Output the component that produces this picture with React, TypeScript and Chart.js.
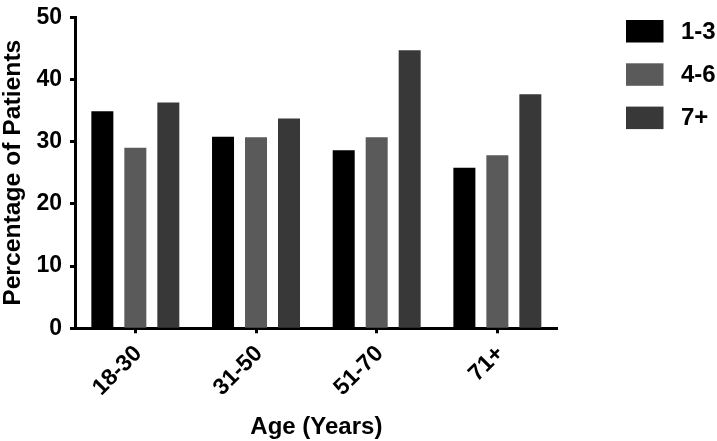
import React, { useEffect, useRef } from "react";
import { Chart, registerables } from "chart.js";

Chart.register(...registerables);

const categories = ["18-30", "31-50", "51-70", "71+"];
const seriesNames = ["1-3", "4-6", "7+"];
const series13 = [34.9, 30.8, 28.6, 25.8];
const series46 = [29.0, 30.7, 30.7, 27.8];
const series7p = [36.3, 33.7, 44.7, 37.6];
const colors = ["#000000", "#5a5a5a", "#383838"];
const yTicks = [0, 10, 20, 30, 40, 50];

const FONT = "'Liberation Sans', Arial, Helvetica, sans-serif";

const legendPlugin = {
  id: "customLegend",
  afterDraw(chart: any) {
    const ctx = chart.ctx;
    ctx.save();
    const ds = chart.data.datasets;
    ds.forEach((d: any, i: number) => {
      const y = 20 + i * 43.3;
      ctx.fillStyle = d.backgroundColor;
      ctx.fillRect(626, y, 37.5, 22.5);
      ctx.fillStyle = "#000";
      ctx.font = `bold 24px ${FONT}`;
      ctx.textAlign = "left";
      ctx.textBaseline = "middle";
      ctx.fillText(d.label, 681, y + 12);
    });
    ctx.restore();
  },
};

export default function App() {
  const ref = useRef<HTMLCanvasElement | null>(null);
  useEffect(() => {
    if (!ref.current) return;
    const data = [series13, series46, series7p];
    const chart = new Chart(ref.current, {
      type: "bar",
      data: {
        labels: categories,
        datasets: seriesNames.map((n, i) => ({
          label: n,
          data: data[i],
          backgroundColor: colors[i],
          borderWidth: 0,
          categoryPercentage: 0.82,
          barPercentage: 0.667,
        })),
      },
      options: {
        animation: false,
        responsive: false,
        maintainAspectRatio: false,
        layout: { padding: { top: 10.5, right: 159.3, left: 0, bottom: 0 } },
        plugins: { legend: { display: false }, tooltip: { enabled: false } },
        scales: {
          x: {
            grid: {
              offset: false,
              drawOnChartArea: false,
              color: "#000",
              tickWidth: 3,
              tickLength: 5,
            },
            border: { display: true, color: "#000", width: 3 },
            ticks: {
              color: "#000",
              font: { family: FONT, size: 23, weight: "bold" },
              minRotation: 45,
              maxRotation: 45,
              padding: 7,
              labelOffset: 3,
            },
            title: {
              display: true,
              text: "Age (Years)",
              color: "#000",
              font: { family: FONT, size: 24, weight: "bold", lineHeight: 1.1 },
              padding: 0,
            },
            afterFit: (s: any) => {
              s.height = 112.7;
            },
          },
          y: {
            min: 0,
            max: 50,
            afterBuildTicks: (s: any) => {
              s.ticks = yTicks.map((v) => ({ value: v }));
            },
            grid: {
              drawOnChartArea: false,
              color: "#000",
              tickWidth: 3,
              tickLength: 5,
            },
            border: { display: true, color: "#000", width: 3 },
            ticks: {
              color: "#000",
              font: { family: FONT, size: 23, weight: "bold", lineHeight: 0.8 },
              padding: 8,
            },
            title: {
              display: true,
              text: "Percentage of Patients",
              color: "#000",
              font: { family: FONT, size: 24.7, weight: "bold", lineHeight: 1.08 },
              padding: 0,
            },
            afterFit: (s: any) => {
              s.width = 75;
            },
          },
        },
      },
      plugins: [legendPlugin],
    });
    return () => chart.destroy();
  }, []);
  return (
    <div style={{ position: "absolute", left: 0, top: 0, width: 717, height: 441, background: "#fff" }}>
      <canvas ref={ref} width={717} height={441} style={{ display: "block" }} />
    </div>
  );
}
